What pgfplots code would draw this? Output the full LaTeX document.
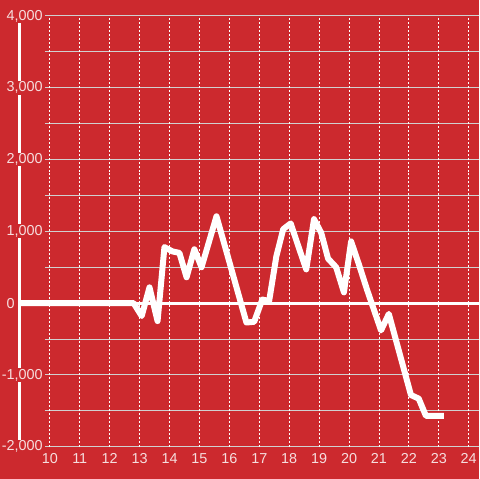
\documentclass[border=0pt]{standalone}
\usepackage{fontspec}
\setmainfont{Liberation Sans}
\usepackage{pgfplots}
\pgfplotsset{compat=1.18}
\definecolor{bgred}{RGB}{204,41,46}
\definecolor{gridgray}{RGB}{208,208,208}
\definecolor{labelpink}{RGB}{246,222,222}

\begin{document}
\begin{tikzpicture}
\begin{scope}[x=1bp,y=1bp]
  \fill[bgred] (0,0) rectangle (480,480);
  \useasboundingbox (0,0) rectangle (480,480);
  % horizontal grid, every 500
  \foreach \k in {0,...,12} \draw[gridgray, line width=1bp] (45,{32+36*\k}) -- (480,{32+36*\k});
  % y axis line and zero line
  \draw[white, line width=3bp] (20,32) -- (20,464);
  \draw[white, line width=3bp] (20,176) -- (480,176);
\end{scope}
\begin{axis}[at={(20bp,32bp)}, anchor=south west, scale only axis, width=460bp, height=432bp,
  xmin=9, xmax=24.333, ymin=-2000, ymax=4000,
  axis line style={draw=none}, major tick length=0pt,
  xtick={10,...,24}, ytick={-2000,-1000,1000,2000,3000,4000},
  extra y ticks={0}, extra y tick style={yticklabel style={xshift=-28bp}},
  xmajorgrids, major grid style={white, dash pattern=on 2bp off 2bp, line width=0.8bp},
  ticklabel style={font=\fontsize{14.5}{16}\selectfont, text=labelpink},
  yticklabel style={fill=bgred, inner sep=1bp, xshift=24bp},
  xticklabel style={yshift=-3bp},
  /pgf/number format/.cd, 1000 sep={,}, assume math mode=true]
  \addplot[white, line width=6bp, line join=round] coordinates {
    (9,0) (12.8,0) (13.07,-180) (13.33,220) (13.6,-250) (13.83,780) (14.1,720)
    (14.33,700) (14.57,360) (14.83,750) (15.07,500) (15.57,1210) (16.57,-270)
    (16.83,-260) (17.1,50) (17.33,30) (17.57,650) (17.8,1030) (18.05,1110)
    (18.3,800) (18.57,470) (18.83,1170) (19.07,980) (19.3,620) (19.57,500)
    (19.83,150) (20.07,860) (20.33,540) (20.6,190) (21.07,-380) (21.33,-150)
    (22.07,-1280) (22.33,-1330) (22.57,-1570) (23.17,-1570)
  };
\end{axis}
\end{tikzpicture}
\end{document}
